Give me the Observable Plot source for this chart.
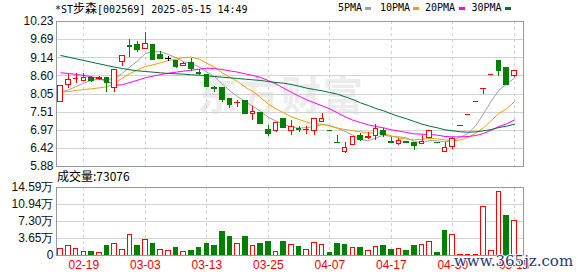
<!DOCTYPE html>
<html><head><meta charset="utf-8">
<script src="https://cdn.jsdelivr.net/npm/d3@7"></script>
<script src="https://cdn.jsdelivr.net/npm/@observablehq/plot@0.6"></script>
<style>
html,body{margin:0;padding:0;background:#fff;}
#wrap{position:relative;width:578px;height:276px;overflow:hidden;font-family:"Liberation Sans",Arial,sans-serif;}
.abs{position:absolute;white-space:nowrap;}
#main{position:absolute;left:0;top:0;z-index:1;}
#vol{position:absolute;left:0;top:168px;z-index:1;}
#wm{left:197px;top:64px;font:bold 40px "Noto Sans CJK SC",sans-serif;color:#ececec;letter-spacing:2px;z-index:0;}
#title{left:55px;top:2px;font:10px/12px "DejaVu Sans Mono",monospace;color:#000;z-index:2;}
#title .cjk{font:12px/12px "Noto Sans CJK SC",sans-serif;}
.lg{top:2px;font:10px/12px "DejaVu Sans Mono",monospace;color:#000;z-index:2;}
.sw{top:7px;width:6px;height:3px;z-index:2;}
#vlabel{left:57px;top:168px;font:12px/16px "Noto Sans CJK SC",sans-serif;color:#000;z-index:2;}
#site{left:454px;top:252px;font:15px/18px "DejaVu Serif",serif;color:#1e3c78;z-index:3;
  text-shadow:1px 0 #fff,-1px 0 #fff,0 1px #fff,0 -1px #fff;}
</style></head>
<body>
<div id="wrap">
  <div id="wm" class="abs">东方财富</div>
  <div id="main"></div>
  <div id="vol"></div>
  <div id="title" class="abs"></div>
  <div id="legend"></div>
  <div id="vlabel" class="abs"></div>
  <div id="site" class="abs">www.365jz.com</div>
</div>
<script>
// ---- data ----
const stockName = "*ST步森";
const stockCode = "002569";
const stamp = "2025-05-15 14:49";

const openP  = [7.83,8.33,8.51,8.46,8.53,8.51,8.53,8.23,9.01,9.50,9.54,9.41,9.54,9.22,9.11,9.06,8.91,8.99,8.68,8.64,
                8.24,8.24,7.91,7.78,7.84,7.45,7.49,6.99,6.94,7.32,6.94,7.00,6.97,6.96,7.21,6.95,6.60,6.31,6.53,6.81,
                6.74,6.81,6.96,6.62,6.57,6.62,6.60,6.56,6.74,6.61,6.33,6.46,7.11,7.44,7.83,8.21,8.63,9.06,8.85,8.59];
const closeP = [8.31,8.48,8.52,8.53,8.46,8.53,8.39,8.79,9.19,9.48,9.39,9.55,9.07,9.11,9.11,8.87,8.96,8.80,8.65,8.26,
                8.22,7.88,7.74,7.80,7.45,7.53,7.16,6.87,7.18,7.04,7.08,6.98,6.98,7.32,7.32,6.95,6.60,6.44,6.78,6.69,
                6.76,7.01,6.83,6.60,6.65,6.59,6.49,6.62,6.94,6.61,6.44,6.71,7.11,7.44,7.83,8.21,8.63,8.74,8.34,8.75];
const highP  = [8.31,8.63,8.67,8.66,8.59,8.59,8.54,8.80,9.20,9.69,9.62,9.89,9.54,9.33,9.19,9.07,8.99,9.13,8.79,8.65,
                8.29,8.25,7.92,7.86,7.85,7.67,7.50,7.11,7.19,7.33,7.26,7.08,7.09,7.33,7.46,6.95,6.81,6.60,6.79,6.88,
                6.91,7.13,7.01,6.74,6.73,6.64,6.61,6.81,6.95,6.61,6.60,6.76,7.11,7.44,7.83,8.21,8.63,9.07,8.86,8.75];
const lowP   = [7.83,8.21,8.36,8.42,8.40,8.47,8.10,8.10,8.88,9.16,9.29,9.40,9.06,9.08,9.03,8.82,8.90,8.74,8.61,8.25,
                8.09,7.81,7.62,7.64,7.44,7.27,7.15,6.79,6.89,7.03,6.82,6.89,6.83,6.82,7.21,6.95,6.60,6.28,6.52,6.64,
                6.68,6.66,6.74,6.56,6.52,6.56,6.36,6.53,6.73,6.61,6.33,6.38,7.11,7.44,7.83,8.03,8.63,8.58,8.32,8.54];
const volume = [14200,21400,14200,8500,7100,5700,19900,25600,12800,44100,19900,34200,25600,12800,10700,15700,8500,10700,15700,24200,
                19900,49800,39200,25600,39200,21400,24200,29900,8500,29900,22800,17800,12800,27100,23500,4300,25600,23500,17100,15700,
                10000,19200,19900,12800,15000,10700,19900,22800,29900,6400,53400,44800,1500,1800,1600,104700,10000,136700,85400,73076];

const ma5  = [8.11,8.18,8.28,8.38,8.47,8.50,8.48,8.54,8.67,8.87,9.05,9.27,9.33,9.32,9.24,9.14,9.02,8.97,8.87,8.71,
              8.58,8.36,8.15,7.98,7.82,7.69,7.54,7.36,7.24,7.16,7.06,7.03,7.05,7.08,7.14,7.11,7.03,6.93,6.82,6.69,
              6.65,6.74,6.82,6.78,6.77,6.74,6.63,6.59,6.66,6.65,6.62,6.66,6.76,6.87,7.11,7.46,7.84,8.17,8.35,8.53];
const ma10 = [8.11,8.13,8.16,8.19,8.21,8.24,8.27,8.37,8.53,8.67,8.78,8.88,8.93,8.99,9.06,9.10,9.15,9.16,9.10,8.98,
              8.86,8.69,8.56,8.43,8.26,8.13,7.95,7.75,7.61,7.49,7.37,7.29,7.21,7.16,7.15,7.09,7.03,6.99,6.95,6.92,
              6.89,6.89,6.87,6.80,6.73,6.70,6.68,6.70,6.72,6.71,6.68,6.65,6.68,6.76,6.88,7.04,7.26,7.47,7.61,7.82];
const ma20 = [8.69,8.67,8.64,8.61,8.57,8.51,8.44,8.32,8.33,8.40,8.47,8.54,8.59,8.64,8.68,8.71,8.74,8.77,8.80,8.83,
              8.82,8.79,8.75,8.71,8.66,8.61,8.55,8.46,8.36,8.23,8.11,7.99,7.88,7.79,7.70,7.61,7.49,7.37,7.27,7.20,
              7.13,7.08,7.04,6.98,6.94,6.90,6.86,6.85,6.84,6.82,6.78,6.77,6.77,6.78,6.81,6.87,6.97,7.08,7.16,7.27];
const ma30 = [9.21,9.16,9.11,9.06,9.01,8.96,8.91,8.86,8.82,8.78,8.75,8.73,8.71,8.69,8.67,8.66,8.65,8.63,8.62,8.60,
              8.58,8.56,8.54,8.52,8.50,8.48,8.46,8.43,8.40,8.38,8.34,8.29,8.23,8.19,8.15,8.10,8.05,7.97,7.89,7.79,
              7.71,7.62,7.55,7.46,7.38,7.31,7.23,7.15,7.09,7.04,6.98,6.95,6.92,6.91,6.92,6.95,6.99,7.05,7.09,7.15];

const maNames  = ["5PMA","10PMA","20PMA","30PMA"];
const priceTicks = [5.88,6.42,6.97,7.51,8.05,8.60,9.14,9.69,10.23];
const volTicks = [0,36475,72950,109425,145900];
const volTickLabels = ["0","3.65万","7.30万","10.94万","14.59万"];
const dateTickIdx = [3,11,19,27,35,43,51,59];
const dateTickLabels = ["02-19","03-03","03-13","03-25","04-07","04-17","04-30","05-15"];

// ---- styling ----
const RED = "#ff0000", GREEN = "#008000", GRID = "#d2d2d2", FRAME = "#999";
const maColors = ["#a0a0a0","#f0a000","#ff00ff","#00703a"];
const W = 578, ML = 56, MR = 55;
const xDomain = [-0.56, 60.2];
const half = 0.3;

const candles = openP.map((o,i)=>({i, open:o, close:closeP[i], high:highP[i], low:lowP[i],
  prev: i>0 ? closeP[i-1] : null, vol: volume[i]}));
function dir(d){
  if (d.close > d.open) return 1;
  if (d.close < d.open) return -1;
  if (d.prev == null) return 1;
  return d.close > d.prev ? 1 : d.close < d.prev ? -1 : 0;
}
const colorOf = d => dir(d) > 0 ? RED : dir(d) < 0 ? GREEN : "#000";
const volUp = d => d.prev == null || d.close >= d.prev;
const mas = [ma5, ma10, ma20, ma30];

const baseStyle = {fontFamily:'"Liberation Sans", Arial, sans-serif', fontSize:"12px", background:"transparent", overflow:"visible"};

const main = Plot.plot({
  width: W, height: 168, marginLeft: ML, marginRight: MR, marginTop: 21, marginBottom: 2,
  style: baseStyle,
  x: {type:"linear", domain: xDomain, axis: null},
  y: {domain: [5.88, 10.23], axis: null},
  color: {type:"identity"},
  marks: [
    Plot.gridY(priceTicks, {stroke: GRID, strokeOpacity: 1, shapeRendering:"crispEdges"}),
    Plot.gridX(dateTickIdx, {stroke: GRID, strokeOpacity: 1, strokeDasharray: "3,3", shapeRendering:"crispEdges"}),
    Plot.axisY(priceTicks, {tickSize: 0, tickPadding: 3, tickFormat: d => d.toFixed(2), fontSize: 12, color: "#111", label: null}),
    ...mas.map((m,k) => Plot.line(m, {x: (d,i) => i, y: d => d, stroke: maColors[k], strokeWidth: 1})),
    Plot.ruleX(candles, {x: "i", y1: "low", y2: "high", stroke: colorOf, strokeWidth: 1, shapeRendering:"crispEdges"}),
    Plot.rect(candles.filter(d => d.close > d.open), {x1: d => d.i - half, x2: d => d.i + half, y1: "open", y2: "close",
      fill: "white", stroke: RED, shapeRendering:"crispEdges"}),
    Plot.rect(candles.filter(d => d.close < d.open), {x1: d => d.i - half, x2: d => d.i + half, y1: "open", y2: "close",
      fill: GREEN, stroke: GREEN, shapeRendering:"crispEdges"}),
    Plot.ruleY(candles.filter(d => d.close === d.open), {y: "close", x1: d => d.i - half - 0.06, x2: d => d.i + half + 0.06,
      stroke: colorOf, strokeWidth: 1, shapeRendering:"crispEdges"}),
    Plot.frame({stroke: FRAME, shapeRendering:"crispEdges"})
  ]
});
document.getElementById("main").append(main);

const vol = Plot.plot({
  width: W, height: 108, marginLeft: ML, marginRight: MR, marginTop: 19, marginBottom: 21,
  style: baseStyle,
  x: {type:"linear", domain: xDomain, axis: null},
  y: {domain: [0, 145900], axis: null},
  color: {type:"identity"},
  marks: [
    Plot.gridY(volTicks, {stroke: GRID, strokeOpacity: 1, shapeRendering:"crispEdges"}),
    Plot.gridX(dateTickIdx, {stroke: GRID, strokeOpacity: 1, strokeDasharray: "3,3", shapeRendering:"crispEdges"}),
    Plot.axisY(volTicks, {tickSize: 0, tickPadding: 3, tickFormat: d => volTickLabels[volTicks.indexOf(d)], fontSize: 12, color: "#111", label: null}),
    Plot.axisX(dateTickIdx, {tickSize: 0, tickPadding: 5, tickFormat: d => dateTickLabels[dateTickIdx.indexOf(d)], fontSize: 12, color: "#e00", label: null}),
    Plot.rect(candles.filter(volUp), {x1: d => d.i - half, x2: d => d.i + half, y1: 0, y2: "vol",
      fill: "white", stroke: RED, shapeRendering:"crispEdges"}),
    Plot.rect(candles.filter(d => !volUp(d)), {x1: d => d.i - half, x2: d => d.i + half, y1: 0, y2: "vol",
      fill: GREEN, stroke: GREEN, shapeRendering:"crispEdges"}),
    Plot.frame({stroke: FRAME, shapeRendering:"crispEdges"})
  ]
});
document.getElementById("vol").append(vol);

// ---- texts ----
const m = stockName.match(/^(\*ST)(.*)$/);
document.getElementById("title").innerHTML =
  m[1] + '<span class="cjk">' + m[2] + '</span>[' + stockCode + '] ' + stamp;
document.getElementById("vlabel").textContent = "成交量:" + volume[volume.length - 1];

const legend = document.getElementById("legend");
const lgText = [338, 380, 425, 471.5];
const lgSw = [365, 413, 459, 505];
maNames.forEach((n,k) => {
  const t = document.createElement("div");
  t.className = "abs lg"; t.style.left = lgText[k] + "px"; t.textContent = n;
  const s = document.createElement("div");
  s.className = "abs sw"; s.style.left = lgSw[k] + "px"; s.style.background = maColors[k];
  legend.append(t, s);
});
</script>
</body></html>
